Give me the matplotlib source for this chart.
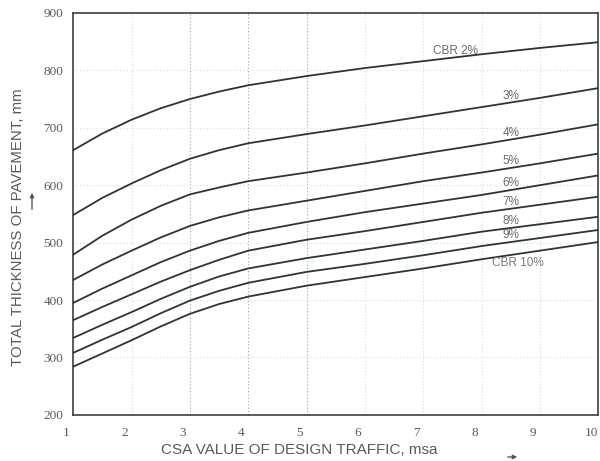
import numpy as np
import matplotlib
matplotlib.use("Agg")
import matplotlib.pyplot as plt
from matplotlib.patches import FancyArrowPatch
from matplotlib.transforms import ScaledTranslation

# design traffic, msa (finer steps at the low end where the curves bend)
csa = [1, 1.5, 2, 2.5, 3, 3.5, 4, 5, 6, 7, 8, 9, 10]

# total pavement thickness (mm), one list per CBR
cbr_2 = [661, 690, 714, 734, 750, 763, 774, 790, 804, 816, 828, 839, 849]
cbr_3 = [548, 578, 603, 626, 646, 661, 673, 689, 704, 720, 736, 752, 769]
cbr_4 = [479, 512, 540, 564, 584, 596, 607, 622, 638, 655, 671, 688, 706]
cbr_5 = [435, 462, 486, 509, 529, 544, 556, 573, 590, 607, 622, 638, 655]
cbr_6 = [395, 420, 443, 466, 486, 503, 517, 536, 553, 568, 583, 600, 617]
cbr_7 = [365, 388, 410, 432, 452, 470, 486, 505, 520, 536, 552, 566, 580]
cbr_8 = [334, 357, 379, 402, 423, 441, 455, 473, 488, 503, 519, 532, 545]
cbr_9 = [308, 331, 353, 377, 399, 416, 430, 449, 463, 478, 494, 508, 522]
cbr_10 = [284, 307, 330, 354, 376, 393, 406, 425, 440, 455, 471, 486, 501]

curves = [cbr_2, cbr_3, cbr_4, cbr_5, cbr_6, cbr_7, cbr_8, cbr_9, cbr_10]
curve_labels = ["CBR 2%", "3%", "4%", "5%", "6%", "7%", "8%", "9%", "CBR 10%"]
label_x = [7.55, 8.5, 8.5, 8.5, 8.5, 8.5, 8.5, 8.5, 8.62]

x_ticks = list(range(1, 11))
y_ticks = [200, 300, 400, 500, 600, 700, 800, 900]

line_col = "#2b3535"
text_col = "#5a5a5a"

fig = plt.figure(figsize=(6.0, 4.61), dpi=100)
ax = fig.add_axes([0.122, 0.10, 0.875, 0.872])

# faint dotted grid like the scanned chart
for xv in x_ticks[1:-1]:
    strong = xv in (3, 4, 5)
    ax.axvline(xv, color="#9aa5a5" if strong else "#d3d8d8",
               lw=0.8, ls=(0, (1, 2)), zorder=1)
for yv in y_ticks[1:-1]:
    ax.axhline(yv, color="#d6dbdb", lw=0.8, ls=(0, (1, 2)), zorder=1)

for vals in curves:
    ax.plot(csa, vals, color=line_col, lw=1.3, zorder=3,
            solid_joinstyle="round")

for i, (lab, lx) in enumerate(zip(curve_labels, label_x)):
    ly = np.interp(lx, csa, curves[i])
    if lab == "CBR 10%":
        ax.text(lx, ly - 6, lab, ha="center", va="top", fontsize=8.5,
                color="#7a7a7a", family="Liberation Sans", zorder=4)
    else:
        ax.text(lx, ly + 1, lab, ha="center", va="bottom", fontsize=8.5,
                color="#6a6a6a", family="Liberation Sans", zorder=4)

ax.set_xlim(1, 10)
ax.set_ylim(200, 900)
ax.set_xticks(x_ticks)
ax.set_yticks(y_ticks)
ax.tick_params(length=0, labelsize=9.5, labelcolor=text_col)
ax.tick_params(axis="x", pad=9)
ax.tick_params(axis="y", pad=7)
for lbl in ax.get_xticklabels() + ax.get_yticklabels():
    lbl.set_family("Liberation Serif")
for lbl in ax.get_xticklabels():
    lbl.set_transform(lbl.get_transform() + ScaledTranslation(-0.07, 0, fig.dpi_scale_trans))

for sp in ax.spines.values():
    sp.set_color("#3a3f3f")
    sp.set_linewidth(1.2)

ax.set_xlabel("CSA VALUE OF DESIGN TRAFFIC, msa", fontsize=11, color=text_col,
              family="Liberation Sans", va="center")
ax.xaxis.set_label_coords(0.43, -0.087)
ax.set_ylabel("TOTAL THICKNESS OF PAVEMENT, mm", fontsize=10.8, color=text_col,
              family="Liberation Sans", va="center")
ax.yaxis.set_label_coords(-0.105, 0.468)

# little direction arrows next to the axis titles
fig.patches.append(FancyArrowPatch(
    (505 / 600, 1 - 457 / 461), (520 / 600, 1 - 457 / 461), transform=fig.transFigure,
    arrowstyle="-|>", mutation_scale=6, color="#555555", lw=1.0))
fig.patches.append(FancyArrowPatch(
    (32 / 600, 1 - 212 / 461), (32 / 600, 1 - 190 / 461), transform=fig.transFigure,
    arrowstyle="-|>", mutation_scale=6, color="#555555", lw=1.0))

fig.savefig("out.png", dpi=100)
